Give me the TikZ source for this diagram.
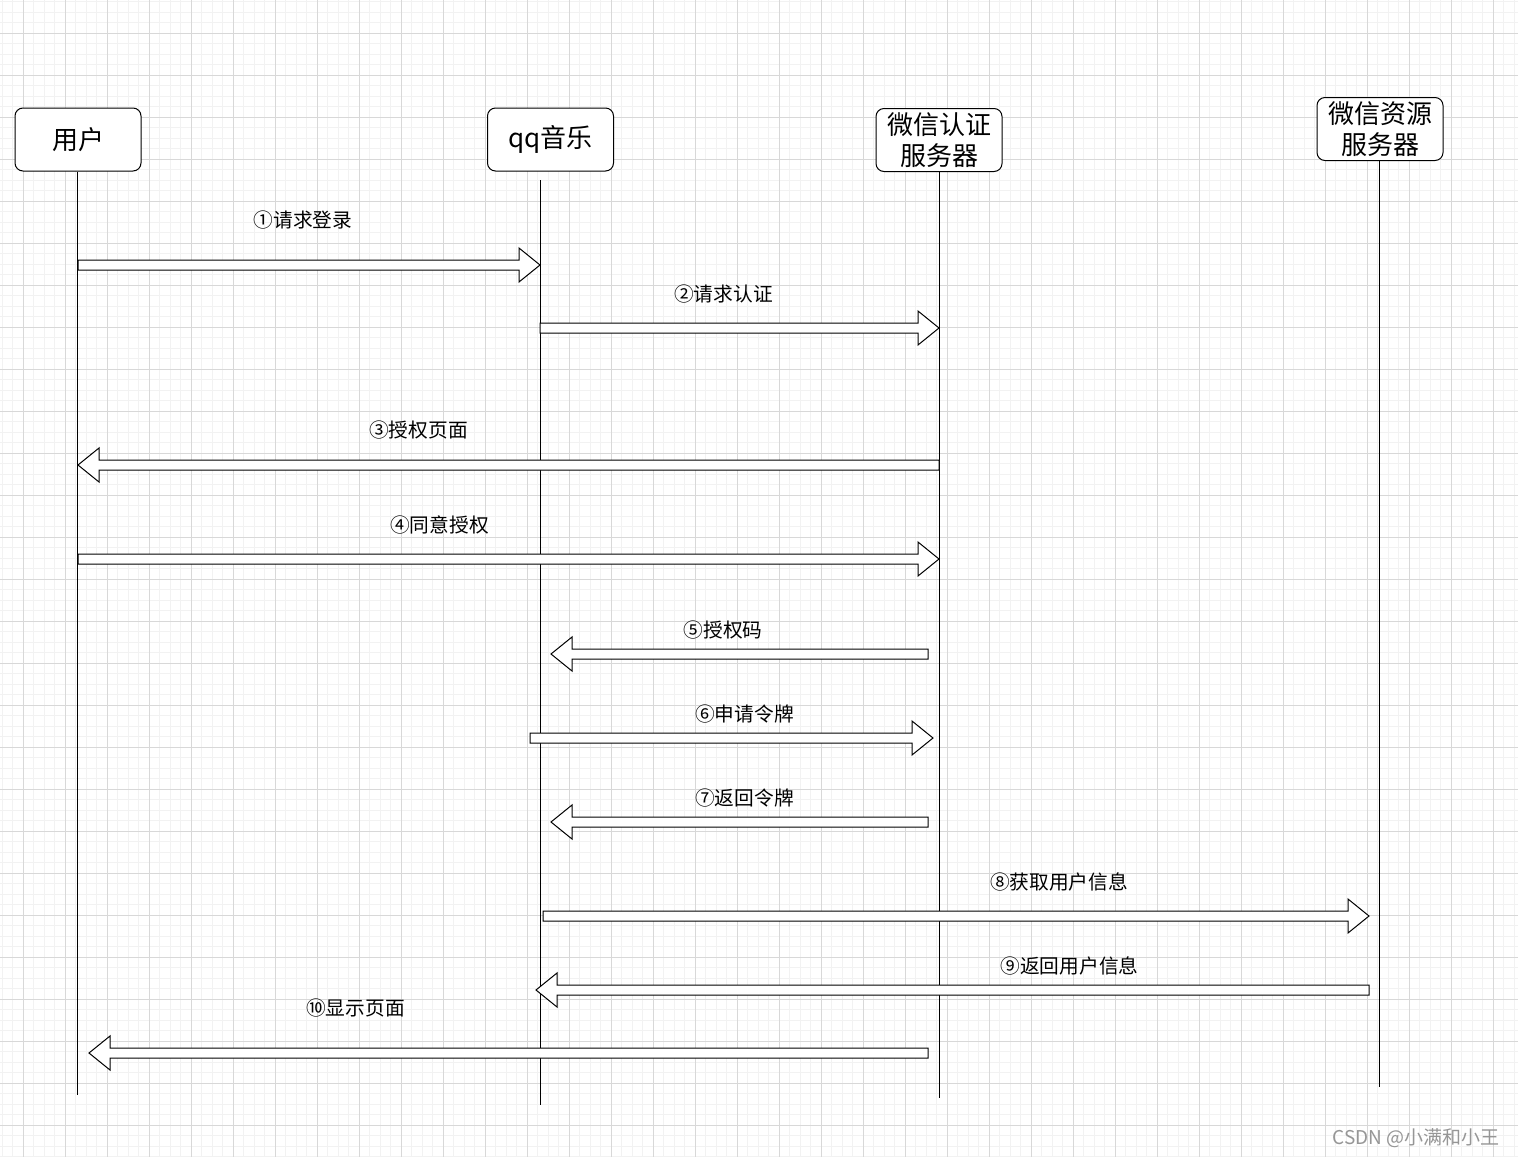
\documentclass[tikz,border=0pt]{standalone}
\usepackage{fontspec}
\setmainfont{Noto Sans CJK SC}
\newfontfamily\cjk{Noto Sans CJK SC}
\usetikzlibrary{calc}
\definecolor{gridminor}{RGB}{242,242,242}
\definecolor{gridmajor}{RGB}{216,216,216}
\definecolor{wmark}{RGB}{150,150,150}
\tikzset{
  actor/.style={draw=black, line width=1pt, fill=white, rounded corners=8pt,
    minimum width=126pt, minimum height=63pt, inner sep=0pt, align=center,
    font=\cjk\fontsize{26}{31}\selectfont},
  lifeline/.style={draw=black, line width=1pt},
  flex/.style={draw=black, line width=1pt, fill=white, line join=miter},
  msg/.style={font=\cjk\fontsize{19.7}{22}\selectfont, inner sep=0pt},
  gminor/.style={draw=gridminor, line width=0.8pt},
  gmajor/.style={draw=gridmajor, line width=0.9pt}
}
\newcommand\flexarrow[2]{%
  \coordinate (hb) at ($(#2)!21pt!(#1)$);
  \draw[flex] ([yshift=5pt]#1) -- ([yshift=5pt]hb) -- ([yshift=17pt]hb) -- (#2)
     -- ([yshift=-17pt]hb) -- ([yshift=-5pt]hb) -- ([yshift=-5pt]#1) -- cycle;}
\begin{document}
\begin{tikzpicture}[x=1pt,y=-1pt]
\useasboundingbox (0,0) rectangle (1518,1157);
\fill[white] (0,0) rectangle (1518,1157);
\begin{scope}
\clip (0,0) rectangle (1518,1157);
\foreach \i in {0,...,144} \draw[gminor] ({2+10.5*\i},0) -- ({2+10.5*\i},1157);
\foreach \i in {0,...,110} \draw[gminor] (0,{1.5+10.5*\i}) -- (1518,{1.5+10.5*\i});
\foreach \i in {0,...,35} \draw[gmajor] ({23+42*\i},0) -- ({23+42*\i},1157);
\foreach \i in {0,...,26} \draw[gmajor] (0,{33+42*\i}) -- (1518,{33+42*\i});
\end{scope}

% actors
\node[actor] (user) at (78,139.5) {用户};
\node[actor] (qq) at (550.5,139.5) {qq音乐};
\node[actor] (auth) at (939,140) {微信认证\\服务器};
\node[actor] (res) at (1380,129) {微信资源\\服务器};

% lifelines
\coordinate (userEnd) at (77,1095);
\coordinate (qqTop) at (540,180);
\coordinate (qqEnd) at (540,1105);
\coordinate (authEnd) at (939,1098);
\coordinate (resEnd) at (1379,1087);
\draw[lifeline] (user.south -| userEnd) -- (userEnd);
\draw[lifeline] (qqTop) -- (qqEnd);
\draw[lifeline] (auth.south -| authEnd) -- (authEnd);
\draw[lifeline] (res.south -| resEnd) -- (resEnd);

% message end points
\coordinate (m1a) at (78,265);   \coordinate (m1b) at (540,265);
\coordinate (m2a) at (540,328);  \coordinate (m2b) at (939,328);
\coordinate (m3a) at (939,465);  \coordinate (m3b) at (78,465);
\coordinate (m4a) at (78,559);   \coordinate (m4b) at (939,559);
\coordinate (m5a) at (928,654);  \coordinate (m5b) at (551,654);
\coordinate (m6a) at (530,738);  \coordinate (m6b) at (933,738);
\coordinate (m7a) at (928,822);  \coordinate (m7b) at (551,822);
\coordinate (m8a) at (543,916);  \coordinate (m8b) at (1369,916);
\coordinate (m9a) at (1369,990); \coordinate (m9b) at (536,990);
\coordinate (m10a) at (928,1053); \coordinate (m10b) at (89,1053);

\flexarrow{m1a}{m1b}
\flexarrow{m2a}{m2b}
\flexarrow{m3a}{m3b}
\flexarrow{m4a}{m4b}
\flexarrow{m5a}{m5b}
\flexarrow{m6a}{m6b}
\flexarrow{m7a}{m7b}
\flexarrow{m8a}{m8b}
\flexarrow{m9a}{m9b}
\flexarrow{m10a}{m10b}

% labels
\node[msg] (l1) at (303,220) {①请求登录};
\node[msg] (l2) at (723.5,294) {②请求认证};
\node[msg] (l3) at (418.5,430) {③授权页面};
\node[msg] (l4) at (439.5,525) {④同意授权};
\node[msg] (l5) at (723,630) {⑤授权码};
\node[msg] (l6) at (744.5,714) {⑥申请令牌};
\node[msg] (l7) at (744.5,798) {⑦返回令牌};
\node[msg] (l8) at (1059,882) {⑧获取用户信息};
\node[msg] (l9) at (1069.5,966) {⑨返回用户信息};
\node[msg] (l10) at (355.5,1008) {⑩显示页面};

% watermark
\node[font=\cjk\fontsize{19}{21}\selectfont, text=wmark, inner sep=0pt] (wm) at (1416,1138) {CSDN @小满和小王};
\end{tikzpicture}
\end{document}
